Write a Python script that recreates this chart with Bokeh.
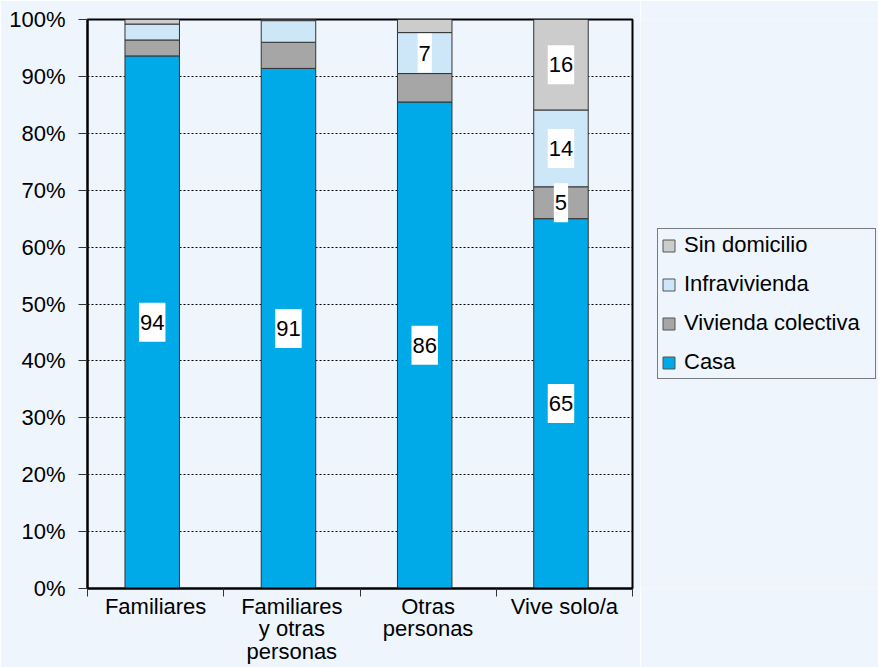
from bokeh.plotting import figure
from bokeh.layouts import row
from bokeh.models import (Range1d, FixedTicker, Legend, LegendItem, ColumnDataSource,
                          PrintfTickFormatter)
from bokeh.core.properties import value
from bokeh.transform import dodge
from bokeh.embed import file_html
from bokeh.resources import INLINE

# ---- data ----
categories = ["Familiares", "Familiares\ny otras\npersonas", "Otras\npersonas", "Vive solo/a"]
series = ["Casa", "Vivienda colectiva", "Infravivienda", "Sin domicilio"]
casa = [93.6, 91.4, 85.5, 65.0]
colectiva = [2.8, 4.6, 5.0, 5.6]
infra = [2.8, 3.8, 7.2, 13.5]
sin_dom = [0.8, 0.2, 2.3, 15.9]
casa_lbl = ["94", "91", "86", "65"]
colectiva_lbl = ["", "", "", "5"]
infra_lbl = ["", "", "7", "14"]
sin_lbl = ["", "", "", "16"]
y_ticks = [0, 10, 20, 30, 40, 50, 60, 70, 80, 90, 100]
colors = ["#00A9E8", "#A6A6A6", "#CDE7F8", "#CCCCCC"]

BG = "#EEF5FC"
FONT = "Liberation Sans"
FS = "22px"

n = len(categories)
xs = [i + 0.5 for i in range(n)]
keys = ["casa", "colectiva", "infra", "sin_dom"]
values = [casa, colectiva, infra, sin_dom]
labels = [casa_lbl, colectiva_lbl, infra_lbl, sin_lbl]

src = ColumnDataSource(dict(x=xs, casa=casa, colectiva=colectiva, infra=infra, sin_dom=sin_dom))

p = figure(width=640, height=667, output_backend="svg", toolbar_location=None,
           x_range=Range1d(0, n), y_range=Range1d(0, 100),
           background_fill_color=BG, border_fill_color=BG,
           min_border_left=87, min_border_top=19, min_border_right=8, min_border_bottom=79)

renderers = p.vbar_stack(keys, x=dodge("x", -0.025), width=0.4, source=src,
                         fill_color=colors, line_color="#333333", line_width=1)

# labels at segment centres
lx, ly, lt = [], [], []
bottoms = [0.0] * n
for vals, lbls in zip(values, labels):
    for i in range(n):
        if lbls[i]:
            lx.append(xs[i])
            ly.append(bottoms[i] + vals[i] / 2.0)
            lt.append(lbls[i])
        bottoms[i] += vals[i]
lsrc = ColumnDataSource(dict(x=lx, y=ly, text=lt))
p.text(x=dodge("x", -0.025), y="y", text="text", source=lsrc,
       text_align="center", text_baseline="middle",
       text_font=value(FONT), text_font_size=FS, text_color="black",
       background_fill_color="white", padding=(1, 12))

# axes
yax = p.yaxis[0]
yax.ticker = FixedTicker(ticks=y_ticks)
yax.formatter = PrintfTickFormatter(format="%d%%")
yax.major_tick_out = 9
yax.major_tick_in = 0
yax.minor_tick_line_color = None
yax.major_tick_line_color = "#333333"
yax.axis_line_width = 2
yax.axis_line_color = "black"
yax.major_label_standoff = 13
yax.major_label_text_font = FONT
yax.major_label_text_font_size = FS
yax.major_label_text_color = "black"

xax = p.xaxis[0]
xax.ticker = FixedTicker(ticks=xs, minor_ticks=list(range(n + 1)))
xax.major_label_overrides = {xs[i]: categories[i] for i in range(n)}
xax.major_tick_line_color = None
xax.minor_tick_out = 8
xax.minor_tick_in = 0
xax.minor_tick_line_color = "#333333"
xax.axis_line_width = 2
xax.axis_line_color = "black"
xax.major_label_standoff = -3
xax.major_label_text_font = FONT
xax.major_label_text_font_size = FS
xax.major_label_text_color = "black"
xax.major_label_text_line_height = 0.9

p.xgrid.visible = False
p.ygrid.ticker = FixedTicker(ticks=y_ticks)
p.ygrid.grid_line_color = "black"
p.ygrid.grid_line_dash = "2 2"
p.ygrid.grid_line_width = 1

p.outline_line_color = "black"
p.outline_line_width = 2

# ---- legend panel (its bars stay outside the visible range; only the legend shows) ----
p2 = figure(width=238, height=667, output_backend="svg", toolbar_location=None,
            x_range=Range1d(-20, -19), y_range=Range1d(0, 100),
            x_axis_location=None, y_axis_location=None,
            background_fill_color=BG, border_fill_color=BG,
            min_border=0, outline_line_color=None)
p2.xgrid.visible = False
p2.ygrid.visible = False
legend_rs = p2.vbar_stack(keys, x="x", width=0.4, source=src,
                          fill_color=colors, line_color="#555555", line_width=1)
items = [LegendItem(label=series[k], renderers=[legend_rs[k]]) for k in reversed(range(len(series)))]
legend = Legend(items=items, location=(17, 209), orientation="vertical",
                glyph_width=15, glyph_height=15, label_standoff=8,
                label_width=188, label_height=25,
                label_text_font=FONT, label_text_font_size=FS, label_text_color="black",
                padding=3, spacing=13, margin=0,
                border_line_color="black", border_line_width=1,
                background_fill_alpha=0)
p2.add_layout(legend)

layout = row(p, p2, spacing=0)
html = file_html(layout, INLINE)
html = html.replace("<body>", '<body style="background-color:%s;">' % BG, 1)
open("out.html", "w").write(html)
